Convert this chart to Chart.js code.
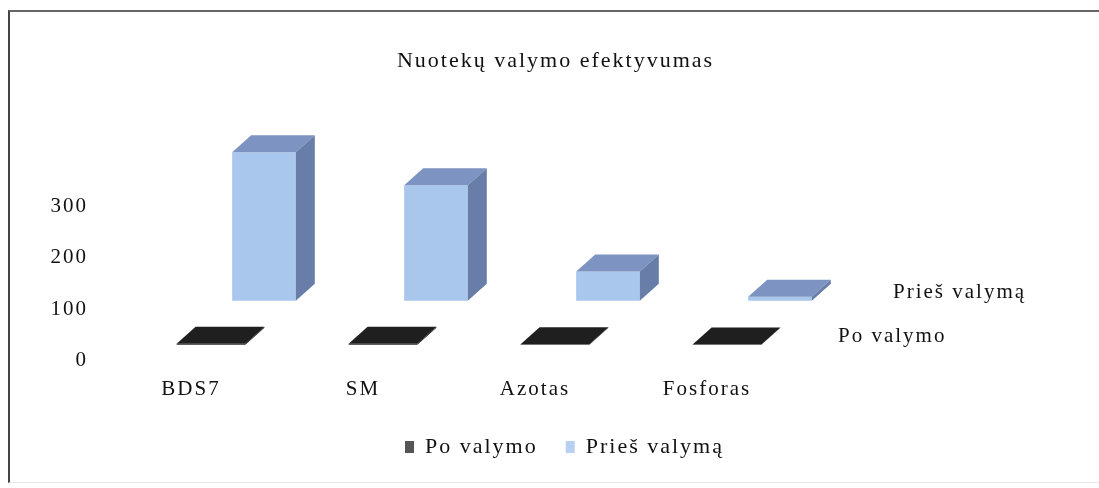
<!DOCTYPE html>
<html lang="lt">
<head>
    <meta charset="UTF-8">
    <title>Nuotekų valymo efektyvumas</title>
    <script src="https://cdn.jsdelivr.net/npm/chart.js"></script>
    <style>
        body { margin: 0; background: #fff; }
        #wrap { position: relative; width: 1099px; height: 488px; }
        #frame {
            position: absolute; left: 8px; top: 10px; right: 0; bottom: 5px;
            border-top: 2px solid #666; border-left: 2px solid #444;
            border-bottom: 1px solid #e8e8e8; pointer-events: none;
        }
    </style>
</head>
<body>
    <div id="wrap">
        <canvas id="chart" width="1099" height="488"></canvas>
        <div id="frame"></div>
    </div>
    <script>
        // data
        const categories = ['BDS7', 'SM', 'Azotas', 'Fosforas'];
        const poValymo = [2, 2, 1, 0.5];
        const priesValyma = [288, 224, 57, 8];
        const yTicks = [0, 100, 200, 300];

        // 3d look: depth of one bar and shift of the back row
        const depth = { x: 19, y: 17 };
        const rowShift = [{ x: 0, y: 0 }, { x: 53, y: -44 }];
        const faces = [
            { top: '#1f1f1f', side: '#111111' },
            { top: '#7d93c1', side: '#687ea9' }
        ];
        const serif = '"Liberation Serif", "Times New Roman", serif';
        const font = { family: serif, size: 21 };
        const bigFont = { family: serif, size: 22 };
        const textColor = '#111';

        function spacing(chart) {
            chart.ctx.letterSpacing = '2px';
        }

        const bars3d = {
            id: 'bars3d',
            beforeUpdate: spacing,
            beforeDraw: spacing,
            afterLayout(chart) {
                // nudge the legend to where the original sits
                const lg = chart.legend;
                lg.top -= 10; lg.bottom -= 10;
                lg.left += 9; lg.right += 9;
            },
            beforeDatasetDraw(chart, args) {
                const s = rowShift[args.index];
                chart.ctx.save();
                chart.ctx.translate(s.x, s.y);
            },
            afterDatasetDraw(chart, args) {
                const ctx = chart.ctx;
                const f = faces[args.index];
                args.meta.data.forEach(bar => {
                    const p = bar.getProps(['x', 'y', 'base', 'width'], true);
                    const l = p.x - p.width / 2, r = p.x + p.width / 2;
                    ctx.fillStyle = f.top;
                    ctx.beginPath();
                    ctx.moveTo(l, p.y);
                    ctx.lineTo(l + depth.x, p.y - depth.y);
                    ctx.lineTo(r + depth.x, p.y - depth.y);
                    ctx.lineTo(r, p.y);
                    ctx.closePath();
                    ctx.fill();
                    ctx.fillStyle = f.side;
                    ctx.beginPath();
                    ctx.moveTo(r, p.y);
                    ctx.lineTo(r + depth.x, p.y - depth.y);
                    ctx.lineTo(r + depth.x, p.base - depth.y);
                    ctx.lineTo(r, p.base);
                    ctx.closePath();
                    ctx.fill();
                });
                ctx.restore();
            },
            afterDraw(chart) {
                // series names along the depth axis
                const ctx = chart.ctx;
                const yb = chart.scales.yb;
                ctx.save();
                ctx.font = font.size + 'px ' + font.family;
                ctx.fillStyle = textColor;
                ctx.textAlign = 'left';
                ctx.textBaseline = 'middle';
                chart.data.datasets.forEach((ds, i) => {
                    const s = rowShift[i];
                    const x = chart.chartArea.right + 25 + s.x + (i ? 2 : 0);
                    const y = yb.getPixelForValue(0) + s.y - depth.y / 2;
                    ctx.fillText(ds.label, x, y);
                });
                ctx.restore();
            }
        };

        const ctx = document.getElementById('chart').getContext('2d');
        new Chart(ctx, {
            type: 'bar',
            data: {
                labels: categories,
                datasets: [{
                    label: 'Po valymo',
                    data: poValymo,
                    yAxisID: 'yb',
                    backgroundColor: '#2a2a2a',
                    barPercentage: 0.4,
                    categoryPercentage: 1,
                    grouped: false,
                    clip: false
                }, {
                    label: 'Prieš valymą',
                    data: priesValyma,
                    yAxisID: 'yb',
                    backgroundColor: '#a9c6ec',
                    barPercentage: 0.37,
                    categoryPercentage: 1,
                    grouped: false,
                    clip: false
                }]
            },
            options: {
                responsive: false,
                animation: false,
                layout: { padding: { left: 12, right: 0, top: 0, bottom: 10 } },
                plugins: {
                    title: {
                        display: true,
                        text: 'Nuotekų valymo efektyvumas',
                        color: textColor,
                        font: { ...bigFont, weight: 'normal' },
                        padding: { top: 48, bottom: 28.6 }
                    },
                    legend: {
                        position: 'bottom',
                        labels: {
                            color: textColor,
                            font: bigFont,
                            boxWidth: 9,
                            boxHeight: 12,
                            padding: 28,
                            generateLabels(chart) {
                                const colors = ['#555555', '#b8d1f1'];
                                return chart.data.datasets.map((ds, i) => ({
                                    text: ds.label,
                                    fillStyle: colors[i],
                                    strokeStyle: colors[i],
                                    lineWidth: 0,
                                    fontColor: textColor,
                                    datasetIndex: i
                                }));
                            }
                        }
                    },
                    tooltip: { enabled: false }
                },
                scales: {
                    x: {
                        offset: true,
                        grid: { display: false, drawTicks: false },
                        border: { display: false },
                        ticks: { color: textColor, font: font, padding: 16, labelOffset: -20, maxRotation: 0 }
                    },
                    y: {
                        min: 0,
                        max: 500,
                        afterBuildTicks: s => { s.ticks = yTicks.map(v => ({ value: v })); },
                        afterFit: s => { s.width = 113; },
                        grid: { display: false, drawTicks: false },
                        border: { display: false },
                        ticks: { color: textColor, font: font, padding: 37 }
                    },
                    yb: {
                        position: 'right',
                        min: -31,
                        max: 469,
                        afterFit: s => { s.width = 286; },
                        grid: { display: false, drawTicks: false },
                        border: { display: false },
                        ticks: { display: false }
                    }
                }
            },
            plugins: [bars3d]
        });
    </script>
</body>
</html>
